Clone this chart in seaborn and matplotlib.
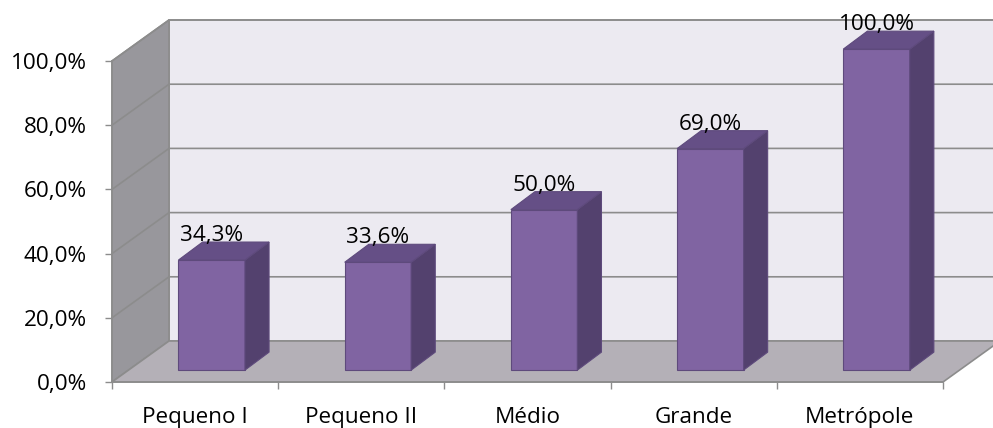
import matplotlib
matplotlib.use("Agg")
import matplotlib.pyplot as plt
from matplotlib.patches import Polygon
import seaborn as sns
import pandas as pd

# Share of municipalities per size class
categories = ["Pequeno I", "Pequeno II", "Médio", "Grande", "Metrópole"]
values = [34.3, 33.6, 50.0, 69.0, 100.0]
value_labels = ["34,3%", "33,6%", "50,0%", "69,0%", "100,0%"]
y_ticks = [0, 20, 40, 60, 80, 100]
y_tick_labels = ["0,0%", "20,0%", "40,0%", "60,0%", "80,0%", "100,0%"]

# Colours
FRONT = "#8064A2"
SIDE = "#53416E"
TOP = "#654F86"
EDGE = "#5E4A7C"
WALL_BACK = "#ECEAF1"
WALL_LEFT = "#98979C"
FLOOR = "#B4B0B7"
GRID = "#8C8C8C"

sns.set_style("white")
plt.rcParams["font.family"] = ["Open Sans", "DejaVu Sans"]
FS = 16.2

W, H = 993, 428
fig = plt.figure(figsize=(W / 100, H / 100), dpi=100)
fig.patch.set_facecolor("white")
ax = fig.add_axes([112 / W, (H - 382) / H, (943 - 112) / W, (382 - 61) / H])
ax.set_facecolor("none")

df = pd.DataFrame({"categoria": categories, "valor": values})
sns.barplot(data=df, x="categoria", y="valor", width=0.4, color=FRONT,
            saturation=1, edgecolor=EDGE, linewidth=0.8, zorder=3, ax=ax)
bars = list(ax.patches)

ax.set_xlim(-0.5, 4.5)
ax.set_ylim(0, 100)

# Oblique depth of the plot box (in data units)
DX, DY = 0.343, 12.77
# Bars sit part-way into the box and have their own depth
SHIFT_X, SHIFT_Y = 0.10, 3.7
BDX, BDY = 0.145, 5.6

x0, x1 = -0.5, 4.5
walls = [
    ([(x0 + DX, DY), (x1 + DX, DY), (x1 + DX, 100 + DY), (x0 + DX, 100 + DY)], WALL_BACK),
    ([(x0, 0), (x0 + DX, DY), (x0 + DX, 100 + DY), (x0, 100)], WALL_LEFT),
    ([(x0, 0), (x1, 0), (x1 + DX, DY), (x0 + DX, DY)], FLOOR),
]
for pts, fc in walls:
    ax.add_patch(Polygon(pts, closed=True, facecolor=fc, edgecolor=GRID,
                         linewidth=1.2, zorder=0.5, clip_on=False))

for t in y_ticks[1:]:
    ax.plot([x0, x0 + DX, x1 + DX], [t, t + DY, t + DY], color=GRID,
            linewidth=1.2, zorder=0.6, clip_on=False)

for p, lab in zip(bars, value_labels):
    p.set_x(p.get_x() + SHIFT_X)
    p.set_y(SHIFT_Y)
    xl = p.get_x()
    xr = xl + p.get_width()
    yb = p.get_y()
    yt = yb + p.get_height()
    side = [(xr, yb), (xr + BDX, yb + BDY), (xr + BDX, yt + BDY), (xr, yt)]
    top = [(xl, yt), (xr, yt), (xr + BDX, yt + BDY), (xl + BDX, yt + BDY)]
    ax.add_patch(Polygon(side, closed=True, facecolor=SIDE, edgecolor=EDGE,
                         linewidth=0.8, zorder=3, clip_on=False))
    ax.add_patch(Polygon(top, closed=True, facecolor=TOP, edgecolor=EDGE,
                         linewidth=0.8, zorder=3, clip_on=False))
    p.set_clip_on(False)
    ax.annotate(lab, (xl + p.get_width() / 2, yt), xytext=(0, 13.7),
                textcoords="offset points", ha="center", va="baseline",
                fontsize=FS, color="black", zorder=6, annotation_clip=False)

# Axes
ax.set_xlabel("")
ax.set_ylabel("")
ax.set_yticks(y_ticks, y_tick_labels)
ax.set_xticks(range(len(categories)), categories)
ax.set_xticks([i - 0.5 for i in range(len(categories) + 1)], minor=True)
ax.tick_params(axis="y", which="major", left=True, length=5, width=1,
               color=GRID, pad=13, labelsize=FS, labelcolor="black")
ax.tick_params(axis="x", which="major", bottom=True, length=0, pad=18,
               labelsize=FS, labelcolor="black")
ax.tick_params(axis="x", which="minor", bottom=True, length=5, width=1,
               color=GRID)
for s in ("top", "right"):
    ax.spines[s].set_visible(False)
for s in ("left", "bottom"):
    ax.spines[s].set_color(GRID)
    ax.spines[s].set_linewidth(1.2)
    ax.spines[s].set_zorder(2)

fig.savefig("out.png", dpi=100, facecolor="white")
